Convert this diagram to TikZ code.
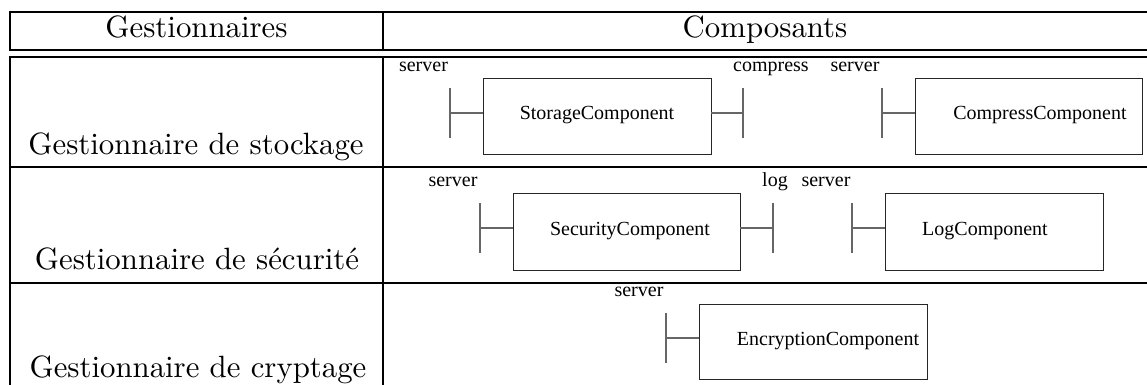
\documentclass[tikz,border=0pt]{standalone}
\usepackage{fontspec}
\newfontfamily\tmfont{Liberation Serif}
\newfontfamily\cmfont{lmroman10-regular}[Extension=.otf]
\begin{document}
\begin{tikzpicture}[x=0.5pt,y=-0.5pt,
  rule/.style={line width=1.1pt, line cap=rect},
  comp/.style={draw=black!85, line width=0.5pt, inner sep=0pt, outer sep=0pt, anchor=north west, minimum height=38pt},
  port/.style={draw=black!60, line width=0.7pt},
  tlbl/.style={font=\tmfont\fontsize{10}{12}\selectfont, anchor=base, inner sep=0pt},
  head/.style={font=\cmfont\fontsize{15.4}{18}\selectfont, anchor=base, inner sep=0pt}]
\useasboundingbox (0,0) rectangle (1147,385);

% table rules
\draw[rule] (10,12) -- (1150,12);
\draw[rule] (10,50) -- (1150,50);
\draw[rule] (10,57) -- (1150,57);
\draw[rule] (10,167) -- (1150,167);
\draw[rule] (10,283) -- (1150,283);
\draw[rule] (10,12) -- (10,50);
\draw[rule] (10,57) -- (10,390);
\draw[rule] (383,12) -- (383,50);
\draw[rule] (383,57) -- (383,390);

% headers and row labels
\node[head] (h1) at (196.5,38) {Gestionnaires};
\node[head] (h2) at (765,38) {Composants};
\node[head] (g1) at (196,155) {Gestionnaire de stockage};
\node[head] (g2) at (197,270) {Gestionnaire de sécurité};
\node[head] (g3) at (198,377) {Gestionnaire de cryptage};

% row 1
\node[comp, minimum width=114pt] (st) at (483,79) {};
\node[tlbl] (stl) at (597,120) {StorageComponent};
\node[comp, minimum width=113.5pt] (cp) at (915,79) {};
\node[tlbl] (cpl) at (1040,120) {CompressComponent};
\node[tlbl] (s1l) at (423.5,72) {server};
\node[tlbl] (c1l) at (771,72) {compress};
\node[tlbl] (s2l) at (855,72) {server};
\coordinate (s1) at (450,113);
\coordinate (c1) at (743,113);
\coordinate (s2) at (882,113);
\draw[port] (s1) ++(0,-25) -- ++(0,50);
\draw[port] (s1) -- (st.west |- s1);
\draw[port] (c1) ++(0,-25) -- ++(0,50);
\draw[port] (st.east |- c1) -- (c1);
\draw[port] (s2) ++(0,-25) -- ++(0,50);
\draw[port] (s2) -- (cp.west |- s2);

% row 2
\node[comp, minimum width=113.5pt] (se) at (513,194) {};
\node[tlbl] (sel) at (630,235) {SecurityComponent};
\node[comp, minimum width=109pt] (lg) at (885,194) {};
\node[tlbl] (lgl) at (985,235) {LogComponent};
\node[tlbl] (s3l) at (453,186) {server};
\node[tlbl] (l1l) at (775,186) {log};
\node[tlbl] (s4l) at (826,186) {server};
\coordinate (s3) at (480,228);
\coordinate (l1) at (773,228);
\coordinate (s4) at (852,228);
\draw[port] (s3) ++(0,-25) -- ++(0,50);
\draw[port] (s3) -- (se.west |- s3);
\draw[port] (l1) ++(0,-25) -- ++(0,50);
\draw[port] (se.east |- l1) -- (l1);
\draw[port] (s4) ++(0,-25) -- ++(0,50);
\draw[port] (s4) -- (lg.west |- s4);

% row 3
\node[comp, minimum width=114pt, minimum height=37.5pt] (en) at (699,304) {};
\node[tlbl] (enl) at (828,345) {EncryptionComponent};
\node[tlbl] (s5l) at (639,296) {server};
\coordinate (s5) at (666,338);
\draw[port] (s5) ++(0,-25) -- ++(0,50);
\draw[port] (s5) -- (en.west |- s5);
\end{tikzpicture}
\end{document}
